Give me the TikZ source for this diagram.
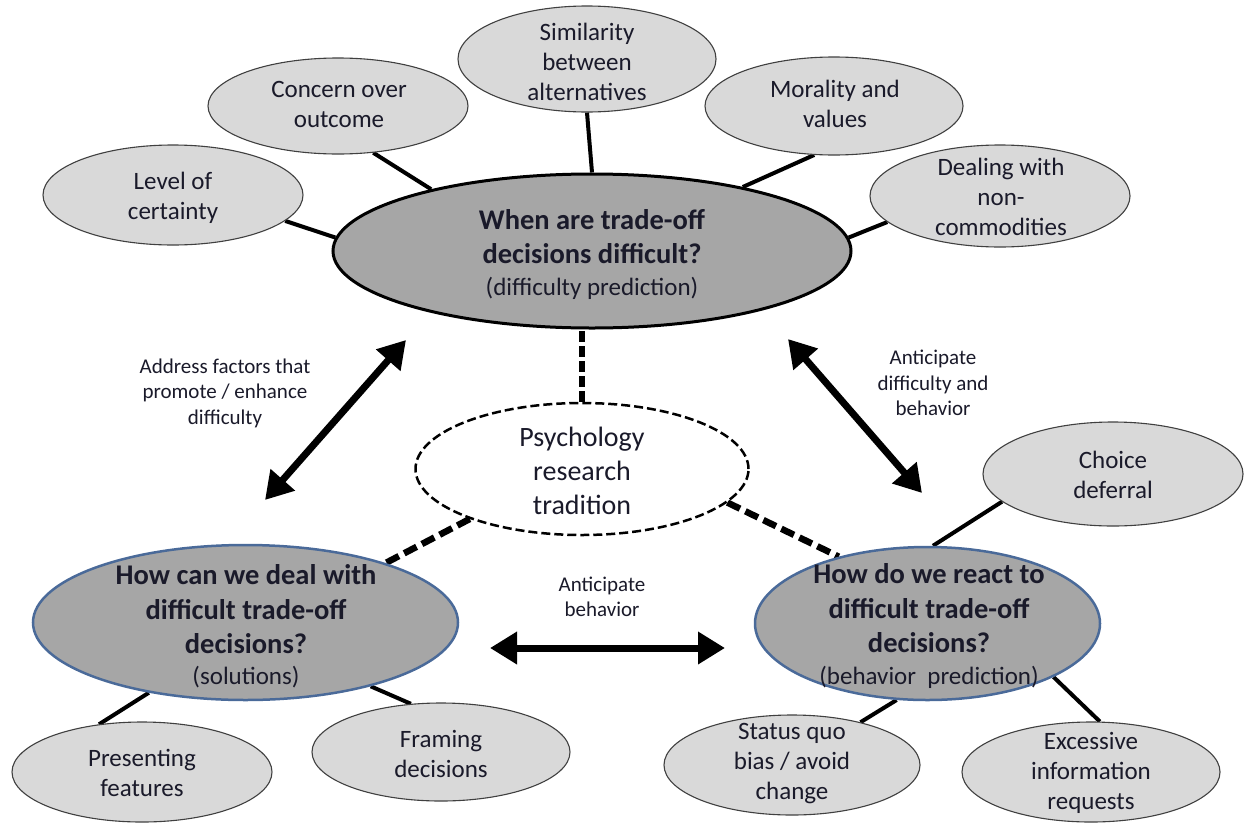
\documentclass[tikz,border=0pt]{standalone}
\usepackage{fontspec}
\setmainfont{Carlito}
\usetikzlibrary{shapes.geometric,arrows.meta}
\definecolor{smallfill}{HTML}{D9D9D9}
\definecolor{mainfill}{HTML}{A6A6A6}
\definecolor{smallline}{HTML}{404040}
\definecolor{blueline}{HTML}{4A6A99}
\definecolor{txt}{HTML}{1A1A2A}
\pgfdeclarelayer{bg}
\pgfsetlayers{bg,main}
\begin{document}
\begin{tikzpicture}[x=1pt,y=-1pt,
 smallell/.style={ellipse, draw=smallline, line width=1.1pt, fill=smallfill, inner sep=0pt},
 topell/.style={ellipse, draw=black, line width=3pt, fill=mainfill, inner sep=0pt},
 botell/.style={ellipse, draw=blueline, line width=2.5pt, fill=mainfill, inner sep=0pt},
 psyell/.style={ellipse, draw=black, line width=2.5pt, dash pattern=on 9pt off 4pt, fill=white, inner sep=0pt},
 smalltxt/.style={align=center, text=txt, font=\fontsize{25}{30}\selectfont, inner sep=0pt},
 psytxt/.style={align=center, text=txt, font=\fontsize{28}{34}\selectfont, inner sep=0pt},
 titletxt/.style={align=center, text=txt, font=\bfseries\fontsize{28.5}{34.5}\selectfont, inner sep=0pt},
 labeltxt/.style={align=center, text=txt, font=\fontsize{21}{25.5}\selectfont, inner sep=0pt},
 conn/.style={line width=4pt},
 dconn/.style={line width=6.5pt, dash pattern=on 14pt off 6pt},
 bigarrow/.style={line width=7pt, {Triangle[length=27pt,width=31pt]}-{Triangle[length=27pt,width=31pt]}},
]
\useasboundingbox (0,0) rectangle (1244,822);

% main ellipses
\node[topell, minimum width=518pt, minimum height=154pt] (top) at (592,251) {};
\node[titletxt] (top-t) at (592,254) {When are trade-off\\decisions difficult?\\[-3pt]{\mdseries\fontsize{25}{30}\selectfont (difficulty prediction)}};

\node[botell, minimum width=425pt, minimum height=155pt] (bl) at (245.5,622.5) {};
\node[titletxt] (bl-t) at (246,626) {How can we deal with\\difficult trade-off\\decisions?\\[-4pt]{\mdseries\fontsize{25}{30}\selectfont (solutions)}};

\node[botell, minimum width=345pt, minimum height=153pt] (br) at (927.5,623.5) {};
\node[titletxt] (br-t) at (929,626) {How do we react to\\difficult trade-off\\decisions?\\[-3pt]{\mdseries\fontsize{25}{30}\selectfont (behavior\ \ prediction)}};

\node[psyell, minimum width=333pt, minimum height=132pt] (psy) at (582,469) {};
\node[psytxt] (psy-t) at (582,471) {Psychology\\research\\tradition};

% small ellipses
\node[smallell, minimum width=260pt, minimum height=100pt] (lvl) at (173,195) {};
\node[smalltxt] (lvl-t) at (173,198) {Level of\\certainty};
\node[smallell, minimum width=260pt, minimum height=96pt] (con) at (338,106) {};
\node[smalltxt] (con-t) at (339,104) {Concern over\\outcome};
\node[smallell, minimum width=258pt, minimum height=106pt] (sim) at (587,59) {};
\node[smalltxt] (sim-t) at (587,62) {Similarity\\between\\alternatives};
\node[smallell, minimum width=258pt, minimum height=98pt] (mor) at (834,106) {};
\node[smalltxt] (mor-t) at (835,104) {Morality and\\values};
\node[smallell, minimum width=260pt, minimum height=102pt] (dea) at (1000,196) {};
\node[smalltxt] (dea-t) at (1001,197) {Dealing with\\non-\\commodities};
\node[smallell, minimum width=260pt, minimum height=104pt] (cho) at (1113,474) {};
\node[smalltxt] (cho-t) at (1113,475) {Choice\\deferral};
\node[smallell, minimum width=260pt, minimum height=100pt] (pre) at (142,772) {};
\node[smalltxt] (pre-t) at (142,773) {Presenting\\features};
\node[smallell, minimum width=258pt, minimum height=98pt] (fra) at (441,752) {};
\node[smalltxt] (fra-t) at (441,754) {Framing\\decisions};
\node[smallell, minimum width=256pt, minimum height=100pt] (sta) at (792,765) {};
\node[smalltxt] (sta-t) at (792,764) {Status quo\\bias / avoid\\change};
\node[smallell, minimum width=258pt, minimum height=100pt] (exc) at (1091,772) {};
\node[smalltxt] (exc-t) at (1091,773) {Excessive\\information\\requests};

% labels
\node[labeltxt] (lab1) at (225,393) {Address factors that\\promote / enhance\\difficulty};
\node[labeltxt] (lab2) at (933,383) {Anticipate\\difficulty and\\behavior};
\node[labeltxt] (lab3) at (602,597) {Anticipate\\behavior};

% arrows
\coordinate (a1s) at (265,500);
\coordinate (a1e) at (406,340);
\coordinate (a2s) at (788,339);
\coordinate (a2e) at (922,493);
\coordinate (a3s) at (490,648);
\coordinate (a3e) at (725,648);
\draw[bigarrow] (a1s) -- (a1e);
\draw[bigarrow] (a2s) -- (a2e);
\draw[bigarrow] (a3s) -- (a3e);

\begin{pgfonlayer}{bg}
\fill[white] (0,0) rectangle (1244,822);
\draw[conn] (lvl.-13) -- (top.177);
\draw[conn] (con.-53.5) -- (top.159);
\draw[conn] (sim.south) -- (top.north);
\draw[conn] (mor.-112) -- (top.23);
\draw[conn] (dea.-167) -- (top.3);
\draw[conn] (cho.-166) -- (br.86);
\draw[conn] (bl.-144) -- (pre.132);
\draw[conn] (bl.-27) -- (fra.122);
\draw[conn] (br.-112) -- (sta.32);
\draw[conn] (br.-23.6) -- (exc.80);
\draw[dconn, dash pattern=on 11pt off 4pt] (psy.north) -- (psy.north |- top.south);
\draw[dconn] (psy.-156) -- (bl.23.4);
\draw[dconn] (psy.-13.4) -- (br.143.8);
\end{pgfonlayer}
\end{tikzpicture}
\end{document}
